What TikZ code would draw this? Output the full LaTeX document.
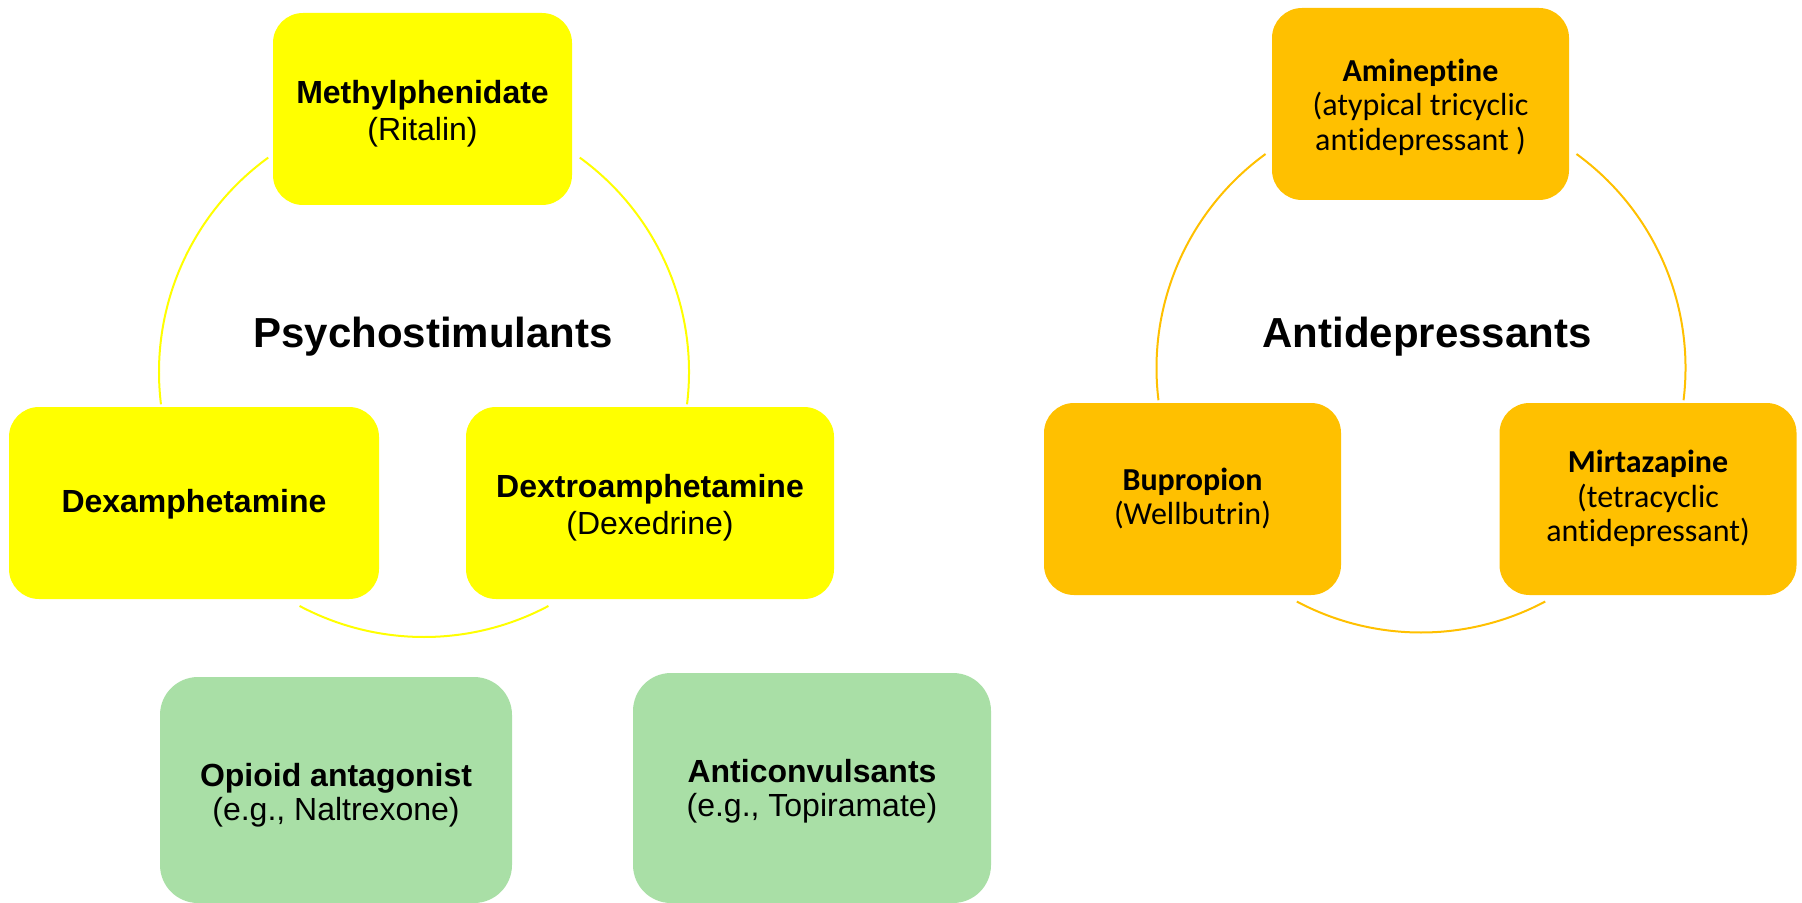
\documentclass[tikz,border=0pt]{standalone}
\usepackage{fontspec}
\setmainfont{Liberation Sans}
\newfontfamily\calib[Ligatures=NoCommon]{Carlito}
\definecolor{psyY}{HTML}{FFFF00}
\definecolor{antiO}{HTML}{FFC000}
\definecolor{grnC}{HTML}{A9DFA6}
\begin{document}
\begin{tikzpicture}[x=0.5pt,y=0.5pt,
  box/.style={rounded corners=15pt, inner sep=0pt, minimum height=96pt},
  yel/.style={box, fill=psyY},
  org/.style={box, fill=antiO, minimum width=148.5pt},
  grn/.style={box, fill=grnC, rounded corners=19pt},
  ytxt/.style={inner sep=0pt, align=center, font=\fontsize{16}{18.5}\selectfont},
  otxt/.style={inner sep=0pt, align=center, font=\calib\fontsize{16}{17.3}\selectfont},
  gtxt/.style={inner sep=0pt, align=center, font=\fontsize{16}{17}\selectfont},
  cycY/.style={line width=1pt, draw=psyY},
  cycO/.style={line width=1pt, draw=antiO},
  grouptitle/.style={font=\bfseries\fontsize{21}{25}\selectfont, anchor=base}]
\useasboundingbox (0,0) rectangle (1802,-903);

% ---------- Psychostimulants cycle ----------
\coordinate (cL) at (424,-372);
\draw[cycY] ([shift={(126:132.5pt)}]cL) arc[start angle=126, end angle=187, radius=132.5pt];
\draw[cycY] ([shift={(54:132.5pt)}]cL) arc[start angle=54, end angle=-7, radius=132.5pt];
\draw[cycY] ([shift={(242:132.5pt)}]cL) arc[start angle=242, end angle=298, radius=132.5pt];

\node[yel, minimum width=149.5pt] (meth) at (422.5,-109) {};
\node[yel, minimum width=185pt] (dexa) at (194,-503) {};
\node[yel, minimum width=184pt] (dextro) at (650,-503) {};
\node[ytxt] (methT) at ([yshift=-2.3pt]meth.center) {\textbf{Methylphenidate}\\(Ritalin)};
\node[ytxt] (dexaT) at ([yshift=-0.5pt]dexa.center) {\textbf{Dexamphetamine}};
\node[ytxt] (dextroT) at ([yshift=-2.3pt]dextro.center) {\textbf{Dextroamphetamine}\\(Dexedrine)};
\node[grouptitle] (psy) at (433,-348) {Psychostimulants};

% ---------- Antidepressants cycle ----------
\coordinate (cR) at (1421,-368);
\draw[cycO] ([shift={(126:132.25pt)}]cR) arc[start angle=126, end angle=187, radius=132.25pt];
\draw[cycO] ([shift={(54:132.25pt)}]cR) arc[start angle=54, end angle=-7, radius=132.25pt];
\draw[cycO] ([shift={(242:132.25pt)}]cR) arc[start angle=242, end angle=298, radius=132.25pt];

\node[org] (amin) at (1420.5,-104) {};
\node[org] (bupr) at (1192.5,-499) {};
\node[org] (mirt) at (1648,-499) {};
\node[otxt] (aminT) at ([yshift=-1.5pt]amin.center) {\textbf{Amineptine}\\(atypical tricyclic\\antidepressant )};
\node[otxt] (buprT) at ([yshift=0.3pt]bupr.center) {\textbf{Bupropion}\\(Wellbutrin)};
\node[otxt] (mirtT) at ([yshift=0.3pt]mirt.center) {\textbf{Mirtazapine}\\(tetracyclic\\antidepressant)};
\node[grouptitle] (anti) at (1427,-348) {Antidepressants};

% ---------- Other ----------
\node[grn, minimum width=176pt, minimum height=113pt] (opio) at (336,-790) {};
\node[grn, minimum width=179pt, minimum height=115pt] (antic) at (812,-788) {};
\node[gtxt] (opioT) at ([yshift=-2.8pt]opio.center) {\textbf{Opioid antagonist}\\(e.g., Naltrexone)};
\node[gtxt] (anticT) at ([yshift=-1.8pt]antic.center) {\textbf{Anticonvulsants}\\(e.g., Topiramate)};
\end{tikzpicture}
\end{document}
